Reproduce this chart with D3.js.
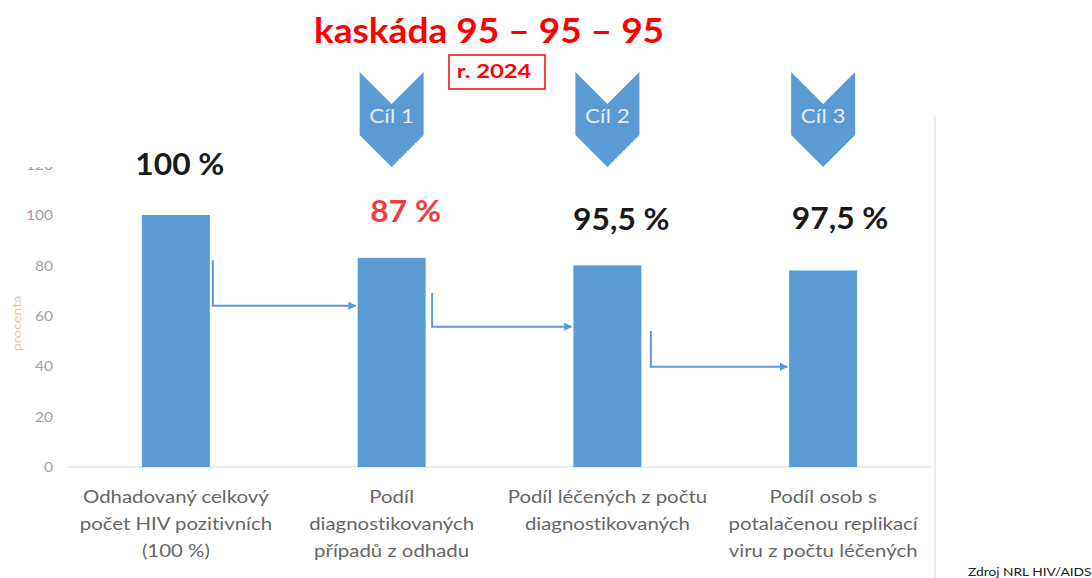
<!DOCTYPE html>
<html>
<head>
<meta charset="utf-8">
<script src="https://cdn.jsdelivr.net/npm/d3@7"></script>
<style>
  body { margin: 0; background: #fff; }
  svg { display: block; font-variant-ligatures: none; }
</style>
</head>
<body>
<div id="chart"></div>
<script>
// data
var categories = [
    ["Odhadovaný celkový", "počet HIV pozitivních", "(100 %)"],
    ["Podíl", "diagnostikovaných", "případů z odhadu"],
    ["Podíl léčených z počtu", "diagnostikovaných"],
    ["Podíl osob s", "potalačenou replikací", "viru z počtu léčených"]
];
var values = [100, 83, 80, 78];
var valueLabels = ["100 %", "87 %", "95,5 %", "97,5 %"];
var valueColors = ["#1a1a1a", "#f03c3c", "#1a1a1a", "#1a1a1a"];
var targets = ["Cíl 1", "Cíl 2", "Cíl 3"];
var yTicks = [0, 20, 40, 60, 80, 100, 120];
// connector arrows, levels in percent (from, to)
var arrowFrom = [82, 69, 54];
var arrowTo = [64, 55.7, 39.8];

var width = 1092, height = 578;
var blue = "#5b9bd5";
var font = "Lato, sans-serif";

var svg = d3.select("#chart").append("svg")
    .attr("width", width)
    .attr("height", height);

// the source picture is stretched sideways a bit, so text gets a scaleX
function stretchedText(parent, cx, cy, sx) {
    return parent.append("g")
        .attr("transform", "translate(" + cx + "," + cy + ") scale(" + sx + ",1)")
        .append("text");
}

var x = d3.scaleBand()
    .domain(d3.range(categories.length))
    .range([68, 931])
    .paddingInner(0.685)
    .paddingOuter(0.3425);

var y = d3.scaleLinear()
    .domain([0, 120])
    .range([467, 164.6]);

// plot area right border
svg.append("line")
    .attr("x1", 935).attr("x2", 935)
    .attr("y1", 116).attr("y2", height)
    .attr("stroke", "#e8e8e8").attr("stroke-width", 1.5);

// y axis (top label is cut off in the original)
svg.append("clipPath").attr("id", "axclip")
    .append("rect").attr("x", -60).attr("y", 167).attr("width", 70).attr("height", 320);

var yAxis = svg.append("g")
    .attr("transform", "translate(53,0)")
    .attr("clip-path", "url(#axclip)")
    .call(d3.axisLeft(y).tickValues(yTicks).tickSize(0).tickPadding(0));
yAxis.select(".domain").remove();
yAxis.selectAll(".tick text")
    .attr("fill", "#a0a0a0")
    .attr("transform", "scale(1.15,1)")
    .attr("dy", "0.35em")
    .style("font-family", font)
    .style("font-size", "13.5px");

svg.append("text")
    .attr("transform", "translate(21," + y(57) + ") rotate(-90) scale(1.2,1)")
    .attr("text-anchor", "middle")
    .attr("fill", "#e0c8a8")
    .style("font-family", font)
    .style("font-size", "12px")
    .text("procenta");

// baseline
svg.append("line")
    .attr("x1", 68).attr("x2", 931)
    .attr("y1", y(0)).attr("y2", y(0))
    .attr("stroke", "#d9d9d9").attr("stroke-width", 1);

// bars
svg.append("g")
    .selectAll("rect")
    .data(values)
    .enter()
        .append("rect")
        .attr("x", function(d, i) { return x(i); })
        .attr("width", x.bandwidth())
        .attr("y", function(d) { return y(d); })
        .attr("height", function(d) { return y(0) - y(d); })
        .attr("fill", blue);

// connector arrows between bars
svg.append("defs").append("marker")
    .attr("id", "head")
    .attr("viewBox", "0 0 10 10")
    .attr("refX", 9).attr("refY", 5)
    .attr("markerWidth", 4).attr("markerHeight", 4)
    .attr("orient", "auto")
    .append("path").attr("d", "M0,0L10,5L0,10z").attr("fill", blue);

var arrowGap = [3, 6.5, 9.5];
svg.append("g")
    .selectAll("path")
    .data(arrowFrom)
    .enter()
        .append("path")
        .attr("d", function(d, i) {
            var x0 = x(i) + x.bandwidth() + arrowGap[i];
            var x1 = x(i + 1) - 2;
            return "M" + x0 + "," + y(d) + "V" + y(arrowTo[i]) + "H" + x1;
        })
        .attr("fill", "none")
        .attr("stroke", blue)
        .attr("stroke-width", 2)
        .attr("marker-end", "url(#head)");

// value labels above bars
var labelShift = [4, 14, 14, 17];
var labelBase = [175, 222, 230, 229];
valueLabels.forEach(function(d, i) {
    stretchedText(svg, x(i) + x.bandwidth() / 2 + labelShift[i], labelBase[i], 1.06)
        .attr("text-anchor", "middle")
        .attr("fill", valueColors[i])
        .style("font-family", font)
        .style("font-weight", "bold")
        .style("font-size", "30px")
        .text(d);
});

// category labels
categories.forEach(function(lines, i) {
    var t = stretchedText(svg, x(i) + x.bandwidth() / 2, 0, 1.2)
        .attr("text-anchor", "middle")
        .attr("fill", "#666")
        .style("font-family", font)
        .style("font-size", "17px");
    t.selectAll("tspan")
        .data(lines)
        .enter()
            .append("tspan")
            .attr("x", 0)
            .attr("y", function(d, j) { return 503 + j * 27; })
            .text(function(d) { return d; });
});

// target chevrons over bars 2-4
var chev = svg.append("g")
    .selectAll("g")
    .data(targets)
    .enter()
        .append("g")
        .attr("transform", function(d, i) {
            return "translate(" + (x(i + 1) + x.bandwidth() / 2) + ",0)";
        });
chev.append("path")
    .attr("d", "M-32,72L0,104L32,72L32,135L0,167L-32,135Z")
    .attr("fill", blue);
chev.append("text")
    .attr("y", 123)
    .attr("text-anchor", "middle")
    .attr("transform", "scale(1.12,1)")
    .attr("fill", "#e6edf6")
    .style("font-family", font)
    .style("font-size", "20px")
    .text(function(d) { return d; });

// title
stretchedText(svg, 489, 43, 1.09)
    .attr("text-anchor", "middle")
    .attr("fill", "#ff0000")
    .style("font-family", font)
    .style("font-weight", "bold")
    .style("font-size", "34px")
    .text("kaskáda 95 – 95 – 95");

svg.append("rect")
    .attr("x", 449).attr("y", 55)
    .attr("width", 96).attr("height", 34)
    .attr("fill", "none")
    .attr("stroke", "#ff0000")
    .attr("stroke-width", 1.5);
stretchedText(svg, 494, 78, 1.25)
    .attr("text-anchor", "middle")
    .attr("fill", "#ff0000")
    .style("font-family", font)
    .style("font-weight", "bold")
    .style("font-size", "19px")
    .text("r. 2024");

stretchedText(svg, 968, 576, 1.25)
    .attr("fill", "#222")
    .style("font-family", font)
    .style("font-size", "11px")
    .text("Zdroj NRL HIV/AIDS");
</script>
</body>
</html>
